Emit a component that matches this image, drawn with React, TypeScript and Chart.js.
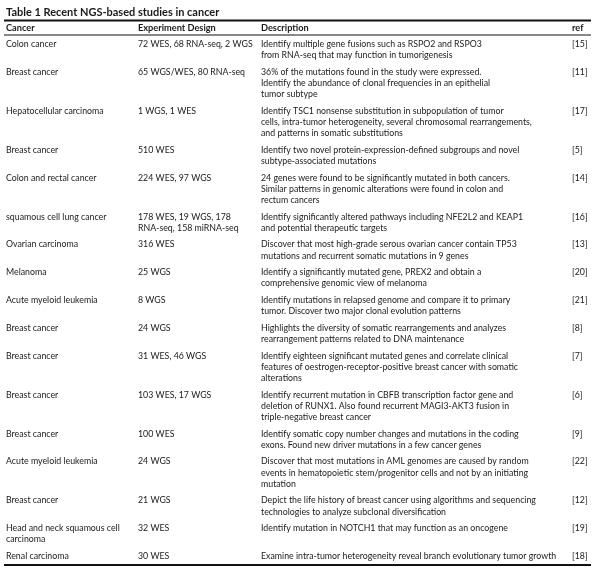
import React, { useEffect, useRef } from "react";
import { Chart, registerables } from "chart.js";

Chart.register(...registerables);

const title = "Table 1 Recent NGS-based studies in cancer";
const headers = ["Cancer", "Experiment Design", "Description", "ref"];

const cancers: string[][] = [
  ["Colon cancer"],
  ["Breast cancer"],
  ["Hepatocellular carcinoma"],
  ["Breast cancer"],
  ["Colon and rectal cancer"],
  ["squamous cell lung cancer"],
  ["Ovarian carcinoma"],
  ["Melanoma"],
  ["Acute myeloid leukemia"],
  ["Breast cancer"],
  ["Breast cancer"],
  ["Breast cancer"],
  ["Breast cancer"],
  ["Acute myeloid leukemia"],
  ["Breast cancer"],
  ["Head and neck squamous cell", "carcinoma"],
  ["Renal carcinoma"],
];

const designs: string[][] = [
  ["72 WES, 68 RNA-seq, 2 WGS"],
  ["65 WGS/WES, 80 RNA-seq"],
  ["1 WGS, 1 WES"],
  ["510 WES"],
  ["224 WES, 97 WGS"],
  ["178 WES, 19 WGS, 178", "RNA-seq, 158 miRNA-seq"],
  ["316 WES"],
  ["25 WGS"],
  ["8 WGS"],
  ["24 WGS"],
  ["31 WES, 46 WGS"],
  ["103 WES, 17 WGS"],
  ["100 WES"],
  ["24 WGS"],
  ["21 WGS"],
  ["32 WES"],
  ["30 WES"],
];

const descriptions: string[][] = [
  ["Identify multiple gene fusions such as RSPO2 and RSPO3", "from RNA-seq that may function in tumorigenesis"],
  ["36% of the mutations found in the study were expressed.", "Identify the abundance of clonal frequencies in an epithelial", "tumor subtype"],
  ["Identify TSC1 nonsense substitution in subpopulation of tumor", "cells, intra-tumor heterogeneity, several chromosomal rearrangements,", "and patterns in somatic substitutions"],
  ["Identify two novel protein-expression-defined subgroups and novel", "subtype-associated mutations"],
  ["24 genes were found to be significantly mutated in both cancers.", "Similar patterns in genomic alterations were found in colon and", "rectum cancers"],
  ["Identify significantly altered pathways including NFE2L2 and KEAP1", "and potential therapeutic targets"],
  ["Discover that most high-grade serous ovarian cancer contain TP53", "mutations and recurrent somatic mutations in 9 genes"],
  ["Identify a significantly mutated gene, PREX2 and obtain a", "comprehensive genomic view of melanoma"],
  ["Identify mutations in relapsed genome and compare it to primary", "tumor. Discover two major clonal evolution patterns"],
  ["Highlights the diversity of somatic rearrangements and analyzes", "rearrangement patterns related to DNA maintenance"],
  ["Identify eighteen significant mutated genes and correlate clinical", "features of oestrogen-receptor-positive breast cancer with somatic", "alterations"],
  ["Identify recurrent mutation in CBFB transcription factor gene and", "deletion of RUNX1. Also found recurrent MAGI3-AKT3 fusion in", "triple-negative breast cancer"],
  ["Identify somatic copy number changes and mutations in the coding", "exons. Found new driver mutations in a few cancer genes"],
  ["Discover that most mutations in AML genomes are caused by random", "events in hematopoietic stem/progenitor cells and not by an initiating", "mutation"],
  ["Depict the life history of breast cancer using algorithms and sequencing", "technologies to analyze subclonal diversification"],
  ["Identify mutation in NOTCH1 that may function as an oncogene"],
  ["Examine intra-tumor heterogeneity reveal branch evolutionary tumor growth"],
];

const refs = ["[15]", "[11]", "[17]", "[5]", "[14]", "[16]", "[13]", "[20]", "[21]", "[8]", "[7]", "[6]", "[9]", "[22]", "[12]", "[19]", "[18]"];

// layout constants (table units on the linear scales)
const COL_X = [6, 138, 261, 572];
const RULE_LEFT = 4;
const RULE_RIGHT = 591;
const TITLE_Y = 12;
const TOP_RULE_Y = 20.5;
const HEADER_Y = 28;
const HEADER_RULE_Y = 35;
const FIRST_ROW_Y = 44;
const LINE_H = 11.2;
const ROW_GAP = 5.4;
const BOTTOM_RULE_Y = 565;

const FONT = "Lato, 'Open Sans', sans-serif";
const TEXT_COLOR = "#1a1a1a";
const BODY_SQUEEZE = 0.925;
const TITLE_SQUEEZE = 0.955;
const HEADER_SQUEEZE = 0.97;

const rowLines = cancers.map((c, i) => Math.max(c.length, designs[i].length, descriptions[i].length, 1));
const rowY: number[] = [];
{
  let y = FIRST_ROW_Y;
  rowLines.forEach((n) => {
    rowY.push(y);
    y += n * LINE_H + ROW_GAP;
  });
}

function drawText(ctx: CanvasRenderingContext2D, text: string, x: number, y: number, sx: number) {
  ctx.save();
  ctx.translate(x, y);
  ctx.scale(sx, 1);
  ctx.fillText(text, 0, 0);
  ctx.restore();
}

const tablePlugin = {
  id: "tablePlugin",
  afterDatasetsDraw(chart: any) {
    const { ctx, scales } = chart;
    const X = (v: number) => scales.x.getPixelForValue(v);
    const Y = (v: number) => scales.y.getPixelForValue(v);
    ctx.save();
    ctx.fillStyle = TEXT_COLOR;
    ctx.textBaseline = "middle";
    ctx.textAlign = "left";

    // title
    ctx.font = `bold 11.5px ${FONT}`;
    drawText(ctx, title, X(COL_X[0]), Y(TITLE_Y), TITLE_SQUEEZE);

    // rules
    ctx.strokeStyle = "#111";
    ctx.lineWidth = 2;
    ctx.beginPath();
    ctx.moveTo(X(RULE_LEFT), Y(TOP_RULE_Y));
    ctx.lineTo(X(RULE_RIGHT), Y(TOP_RULE_Y));
    ctx.stroke();
    ctx.lineWidth = 1;
    ctx.beginPath();
    ctx.moveTo(X(RULE_LEFT), Y(HEADER_RULE_Y));
    ctx.lineTo(X(RULE_RIGHT), Y(HEADER_RULE_Y));
    ctx.stroke();
    ctx.lineWidth = 2;
    ctx.beginPath();
    ctx.moveTo(X(RULE_LEFT), Y(BOTTOM_RULE_Y));
    ctx.lineTo(X(RULE_RIGHT), Y(BOTTOM_RULE_Y));
    ctx.stroke();

    // header
    ctx.font = `bold 9.5px ${FONT}`;
    headers.forEach((h, i) => drawText(ctx, h, X(COL_X[i]), Y(HEADER_Y), HEADER_SQUEEZE));

    // body
    ctx.font = `9.5px ${FONT}`;
    const cols = [cancers, designs, descriptions];
    rowY.forEach((ry, r) => {
      cols.forEach((col, c) => {
        col[r].forEach((line, k) => {
          drawText(ctx, line, X(COL_X[c]), Y(ry + k * LINE_H), BODY_SQUEEZE);
        });
      });
      drawText(ctx, refs[r], X(COL_X[3]), Y(ry), BODY_SQUEEZE);
    });
    ctx.restore();
  },
};

export default function App() {
  const ref = useRef<HTMLCanvasElement | null>(null);
  useEffect(() => {
    document.body.style.margin = "0";
    document.body.style.background = "#ffffff";
    if (!ref.current) return;
    const chart = new Chart(ref.current, {
      type: "scatter",
      data: {
        datasets: [
          {
            label: "rows",
            data: rowY.map((y) => ({ x: COL_X[0], y })),
            pointRadius: 0,
            pointHoverRadius: 0,
          },
        ],
      },
      options: {
        responsive: false,
        maintainAspectRatio: false,
        animation: false,
        devicePixelRatio: 1,
        layout: { padding: 0 },
        plugins: { legend: { display: false }, tooltip: { enabled: false } },
        events: [],
        scales: {
          x: { type: "linear", min: 0, max: 600, display: false },
          y: { type: "linear", min: 0, max: 569, reverse: true, display: false },
        },
      },
      plugins: [tablePlugin],
    });
    return () => chart.destroy();
  }, []);
  return (
    <div style={{ position: "absolute", left: 0, top: 0, width: 600, height: 569, background: "#fff" }}>
      <canvas ref={ref} width={600} height={569} style={{ width: 600, height: 569, display: "block" }} />
    </div>
  );
}
